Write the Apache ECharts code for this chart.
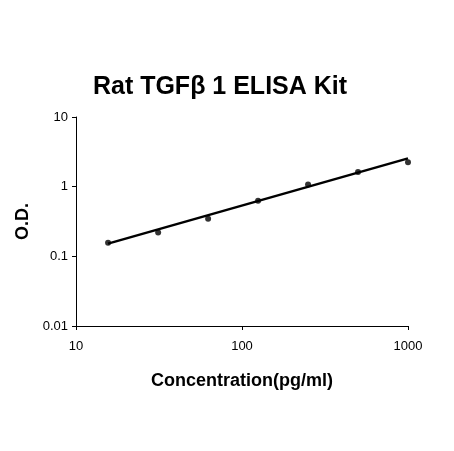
<!DOCTYPE html><html><head><meta charset="utf-8"><script src="https://cdn.jsdelivr.net/npm/echarts@6/dist/echarts.min.js"></script></head><body style="margin:0"><div id="c" style="width:454px;height:451px"></div><script>
const conc=[15.6,31.25,62.5,125,250,500,1000];
const od=[0.157,0.22,0.345,0.63,1.07,1.62,2.25];
const fitX=[15.6,1000];
const fitY=[0.152,2.55];
const ch=echarts.init(document.getElementById('c'));
ch.setOption({animation:false,
title:{text:'Rat TGFβ 1 ELISA Kit',left:215,top:70,textAlign:'center',textStyle:{fontFamily:'Arial',fontSize:25,fontWeight:'bold',color:'#000'}},
grid:{left:76,right:46,top:117,bottom:125},
xAxis:{type:'log',min:10,max:1000,logBase:10,name:'Concentration(pg/ml)',nameLocation:'middle',nameGap:46,nameTextStyle:{fontFamily:'Arial',fontSize:18,fontWeight:'bold',color:'#000'},axisLine:{lineStyle:{color:'#000'}},axisTick:{inside:false,length:4,lineStyle:{color:'#000'}},minorTick:{show:false},splitLine:{show:false},axisLabel:{color:'#000',fontFamily:'Arial',fontSize:13,margin:14,formatter:v=>String(v)}},
yAxis:{type:'log',min:0.01,max:10,logBase:10,name:'O.D.',nameLocation:'middle',nameGap:36,nameTextStyle:{fontFamily:'Arial',fontSize:18,fontWeight:'bold',color:'#000'},axisLine:{show:true,lineStyle:{color:'#000'}},axisTick:{show:true,length:4,lineStyle:{color:'#000'}},splitLine:{show:false},axisLabel:{color:'#000',fontFamily:'Arial',fontSize:13,formatter:v=>String(+v.toPrecision(2))}},
series:[{type:'line',data:fitX.map((x,i)=>[x,fitY[i]]),symbol:'none',lineStyle:{color:'#000',width:2.5}},
{type:'scatter',data:conc.map((x,i)=>[x,od[i]]),symbolSize:6,itemStyle:{color:'#000'}}]});
</script></body></html>
